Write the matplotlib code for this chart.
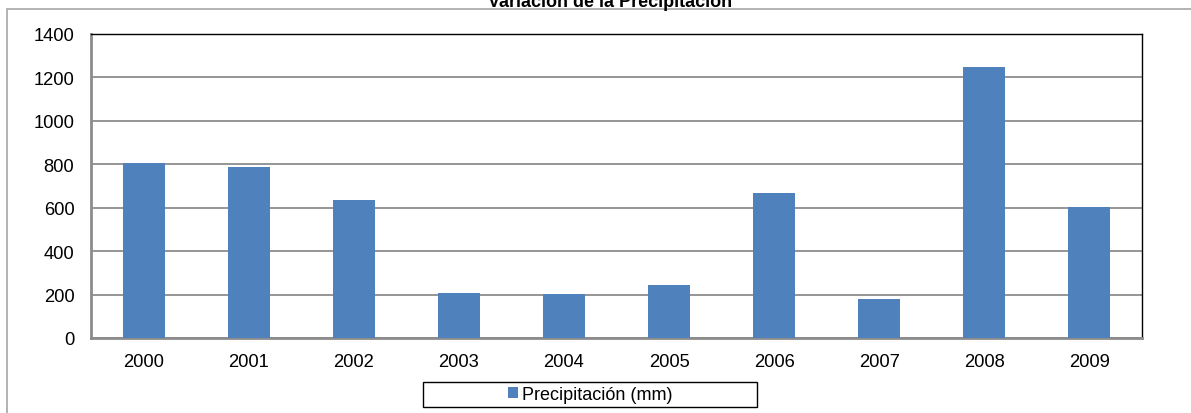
import matplotlib.pyplot as plt
from matplotlib.patches import Rectangle

# Precipitación anual (mm)
years = ['2000', '2001', '2002', '2003', '2004', '2005', '2006', '2007', '2008', '2009']
precip = [805, 786, 634, 206, 201, 246, 666, 180, 1250, 602]
yticks = [0, 200, 400, 600, 800, 1000, 1200, 1400]

plt.rcParams['font.family'] = ['Liberation Sans', 'DejaVu Sans']

W, H = 1191, 414
fig = plt.figure(figsize=(W / 100, H / 100), dpi=100)

# marco exterior del gráfico
fig.patches.append(Rectangle((7 / W, -0.1), 1.2, 1 - 10 / H + 0.1,
                             transform=fig.transFigure, fill=False,
                             edgecolor='#a6a6a6', linewidth=1.2))

ax = fig.add_axes([91 / W, 1 - 339 / H, (1142 - 91) / W, (339 - 35) / H])
x = range(len(years))
bars = ax.bar(x, precip, width=0.4, color='#4f81bd', zorder=3,
              label='Precipitación (mm)')

ax.set_xlim(-0.5, len(years) - 0.5)
ax.set_ylim(0, 1400)
ax.set_yticks(yticks)
ax.set_xticks(list(x))
ax.set_xticklabels(years)
ax.tick_params(axis='both', length=0, labelsize=13.2, colors='black')
ax.tick_params(axis='x', pad=11)
ax.tick_params(axis='y', pad=12)
ax.yaxis.grid(True, color='#8c8c8c', linewidth=1.3, zorder=0)

for side in ['top', 'right']:
    ax.spines[side].set_color('black')
    ax.spines[side].set_linewidth(1.0)
for side in ['left', 'bottom']:
    ax.spines[side].set_color('#8c8c8c')
    ax.spines[side].set_linewidth(2.0)

fig.text(610 / W, 1 - 7 / H, 'Variación de la Precipitación',
         ha='center', va='baseline', fontsize=13, fontweight='bold')

# recuadro de la leyenda
fig.patches.append(Rectangle((423 / W, 1 - 408 / H), (757 - 423) / W, 25 / H,
                             transform=fig.transFigure, fill=False,
                             edgecolor='black', linewidth=1.0))
fig.legend(handles=[bars], loc='center',
           bbox_to_anchor=(590 / W, 1 - 395.5 / H),
           fontsize=13, frameon=False,
           handlelength=0.55, handleheight=0.55, handletextpad=0.2,
           borderpad=0, borderaxespad=0)

fig.savefig('out.png', dpi=100)
